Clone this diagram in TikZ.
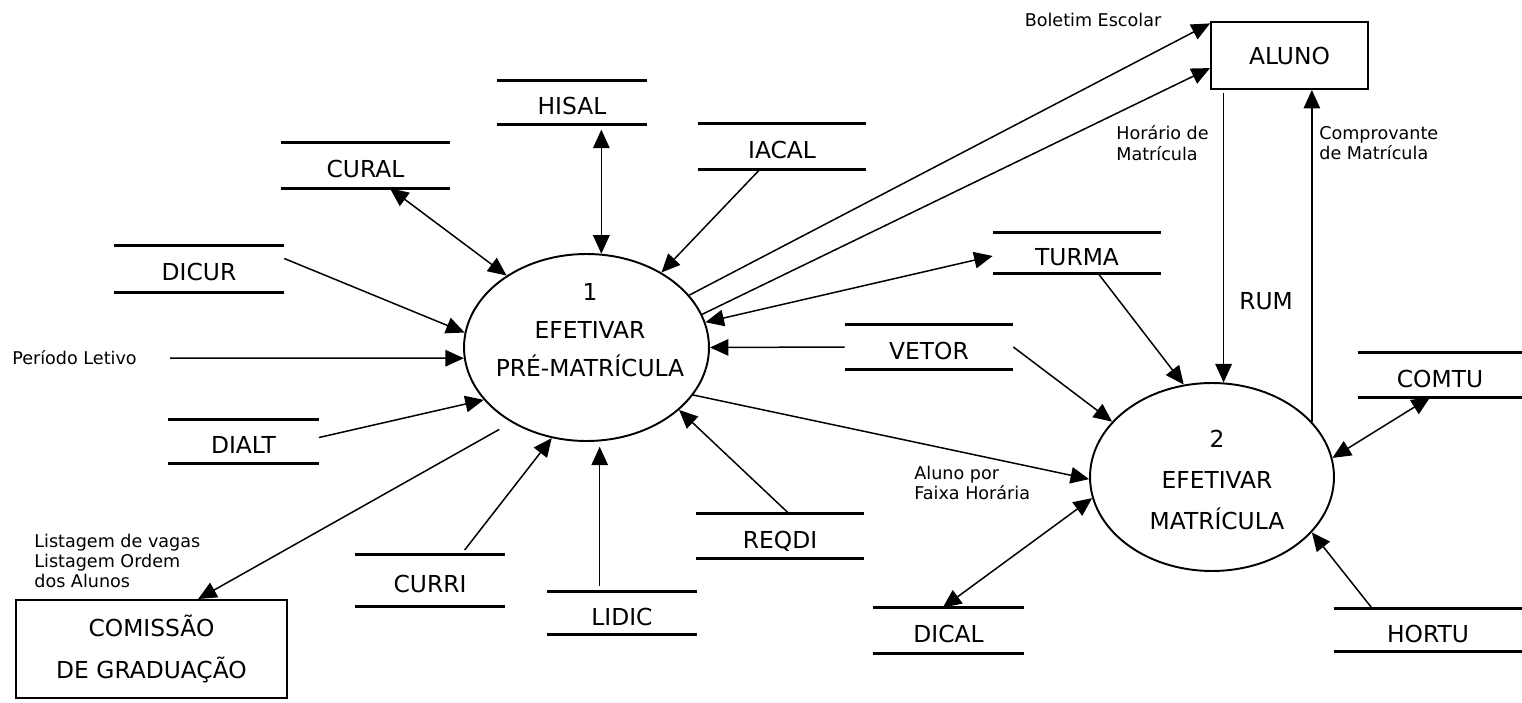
\documentclass[tikz,border=0pt]{standalone}
\usepackage{fontspec}
\setmainfont{DejaVu Sans}
\usetikzlibrary{shapes.geometric, arrows.meta}

\newcommand{\bigtext}{\fontsize{13.3}{21.5}\selectfont}
\newcommand{\smalltext}{\fontsize{10}{11.5}\selectfont}

\begin{document}
\begin{tikzpicture}[x=0.02cm, y=-0.02cm,
    flow/.style={-{Triangle[length=0.37cm, width=0.33cm]}, line width=0.85pt},
    both/.style={{Triangle[length=0.37cm, width=0.33cm]}-{Triangle[length=0.37cm, width=0.33cm]}, line width=0.85pt},
    process/.style={ellipse, draw, line width=1.1pt, minimum width=4.9cm, minimum height=3.74cm},
    entity/.style={rectangle, draw, line width=1.1pt, font=\bigtext, align=center},
    storeline/.style={-, line width=1.7pt},
    store/.style={minimum width=3cm, minimum height=0.88cm, inner sep=0pt,
        text height=0.48cm, text depth=0pt, font=\bigtext,
        append after command={(\tikzlastnode.north west) edge[storeline] (\tikzlastnode.north east)
            (\tikzlastnode.south west) edge[storeline] (\tikzlastnode.south east)}},
    note/.style={font=\smalltext, align=left, inner sep=0pt}]
    \useasboundingbox (0, 0) rectangle (1522, 703);

    \node[process] (p1) at (586.5, 347.5) {};
    \node[font=\bigtext, align=center] (p1text) at (590, 330)
        {1\\EFETIVAR\\PRÉ-MATRÍCULA};
    \node[process, minimum width=4.88cm, minimum height=3.76cm] (p2) at (1212, 477) {};
    \node[font=\bigtext, align=center] (p2text) at (1217, 480)
        {2\\[2pt]EFETIVAR\\[2pt]MATRÍCULA};

    \node[entity, minimum width=3.14cm, minimum height=1.34cm] (aluno)
        at (1289.5, 55.5) {ALUNO};
    \node[entity, minimum width=5.42cm, minimum height=1.96cm] (comissao)
        at (151.5, 649) {COMISSÃO\\[2pt]DE GRADUAÇÃO};

    \node[store, minimum height=0.86cm] (hisal) at (572, 102.5) {HISAL};
    \node[store, minimum width=3.38cm, minimum height=0.9cm] (cural) at (365.5, 165.5) {CURAL};
    \node[store, minimum width=3.4cm, minimum height=0.92cm] (dicur) at (199, 269) {DICUR};
    \node[store, minimum width=3.36cm, minimum height=0.9cm] (iacal) at (782, 146.5) {IACAL};
    \node[store, minimum width=3.36cm, minimum height=0.8cm] (turma) at (1077, 253) {TURMA};
    \node[store, minimum width=3.36cm] (vetor) at (929, 347) {VETOR};
    \node[store, minimum height=0.86cm] (dialt) at (243.5, 441.5) {DIALT};
    \node[store, minimum height=1.04cm] (curri) at (430, 580.5) {CURRI};
    \node[store, minimum height=0.84cm] (lidic) at (622, 613) {LIDIC};
    \node[store, minimum width=3.36cm] (reqdi) at (780, 536) {REQDI};
    \node[store, minimum width=3.28cm] (comtu) at (1440, 375) {COMTU};
    \node[store, minimum height=0.9cm] (dical) at (948.5, 630.5) {DICAL};
    \node[store, minimum width=3.76cm, minimum height=0.84cm] (hortu) at (1428, 630) {HORTU};

    \node[note, anchor=center] (boletim) at (1093, 20) {Boletim Escolar};
    \node[note, anchor=west] (horario) at (1116, 143) {Horário de\\Matrícula};
    \node[note, anchor=west] (comprovante) at (1319, 143) {Comprovante\\de Matrícula};
    \node[font=\bigtext] (rum) at (1266, 301) {RUM};
    \node[note, anchor=west] (periodo) at (12, 358) {Período Letivo};
    \coordinate (letivo) at (170, 358);
    \node[note, anchor=west] (listagem) at (34, 561)
        {Listagem de vagas\\Listagem Ordem\\dos Alunos};
    \node[note, anchor=west] (faixa) at (914, 483) {Aluno por\\Faixa Horária};

    \draw[flow] (dicur.7) -- (p1.173);
    \draw[both] (cural.-43) -- (p1.138);
    \draw[both, shorten <=3pt] (hisal.south -| p1.81) -- (p1.81);
    \draw[flow] (iacal.-134) -- (p1.45);
    \draw[flow] (p1.27) -- (aluno.158);
    \draw[flow] (p1.16) -- (aluno.189);
    \draw[both] (p1.12) -- (turma.182);
    \draw[flow] (vetor.west) -- (p1.east);
    \draw[flow] (letivo) -- (p1.185);
    \draw[flow] (dialt.3) -- (p1.207);
    \draw[flow, shorten <=8pt] (p1.225) -- (comissao.47);
    \draw[flow, shorten <=3pt] (curri.40) -- (p1.249);
    \draw[flow, shorten <=3.5pt, shorten >=3pt] (p1.-82 |- lidic.north) -- (p1.-82);
    \draw[flow] (reqdi.68) -- (p1.-34);
    \draw[flow] (p1.-24) -- (p2.181);
    \draw[flow] (turma.-44) -- (p2.107);
    \draw[flow] (vetor.east) -- (p2.151);
    \draw[flow, shorten <=1.5pt] (p2.83 |- aluno.south) -- (p2.83);
    \draw[flow] (p2.29) -- (p2.29 |- aluno.south);
    \draw[both] (comtu.-114) -- (p2.9);
    \draw[both] (dical.104) -- (p2.190);
    \draw[flow] (hortu.159) -- (p2.-29);
\end{tikzpicture}
\end{document}
